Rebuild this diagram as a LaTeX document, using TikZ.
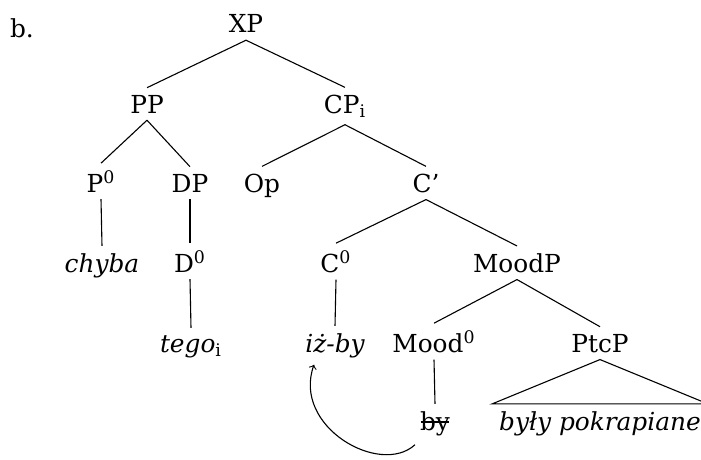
\documentclass[tikz,border=0pt]{standalone}
\usepackage{fontspec}
\setmainfont{DejaVu Serif}
\usetikzlibrary{arrows, calc, positioning}

\begin{document}
\begin{tikzpicture}[x=.5pt,y=-.5pt,line width=.55pt,every node/.style={anchor=base,font=\fontsize{12.4}{15}\selectfont}]

	\useasboundingbox (0,0) rectangle (701,460);
	\node(ex) at (22,38) {b.};

	\node(XP) at (246,33) {XP};
	\node(PP) at (147,113) {PP};
	\node(CP) at (345,113) {CP\textsubscript{i}};
	\draw (XP.south) -- (PP.north);
	\draw (XP.south) -- (CP.north);

	\node(P0) at (101,192) {P\textsuperscript{0}};
	\node(DP) at (190,192) {DP};
	\node(Op) at (262,192) {Op};
	\node(C1) at (426,192) {C'};
	\draw (PP.south) -- (P0.north);
	\draw (PP.south) -- (DP.north);
	\draw (CP.south) -- (Op.north);
	\draw (CP.south) -- (C1.north);

	\node(chyba) at (102,272) {\itshape chyba};
	\node(D0) at (190,272) {D\textsuperscript{0}};
	\node(C0) at (336,272) {C\textsuperscript{0}};
	\node(MoodP) at (517,272) {MoodP};
	\draw (P0.south) -- (chyba.north);
	\draw (DP.south) -- (D0.north);
	\draw (C1.south) -- (C0.north);
	\draw (C1.south) -- (MoodP.north);

	\node(tego) at (191,352) {\itshape tego\textsubscript{\upshape i}};
	\node(izby) at (335,352) {\itshape iż-by};
	\node(Mood0) at (434,352) {Mood\textsuperscript{0}};
	\node(PtcP) at (600,352) {PtcP};
	\draw (D0.south) -- (tego.north);
	\draw (C0.south) -- (izby.north);
	\draw (MoodP.south) -- (Mood0.north);
	\draw (MoodP.south) -- (PtcP.north);

	\node(by) at (435,430) {by};
	\node(byly) at (600,430) {\itshape były pokrapiane};
	\draw (Mood0.south) -- (by.north);
	\draw (PtcP.south) -- (byly.north west) -- (byly.north east) -- cycle;
	% strike through the lower copy
	\draw ($(by.base west)+(8,-8)$) -- ($(by.base east)+(-8,-8)$);

	% movement of by
	\coordinate (mv1) at ($(by.south)+(-20,2)$);
	\coordinate (mv2) at ($(izby.south)+(-21,0)$);
	\draw[->] (mv1) .. controls ($(mv1)+(-35,32)$) and ($(mv2)+(-22,62)$) .. (mv2);

\end{tikzpicture}
\end{document}
